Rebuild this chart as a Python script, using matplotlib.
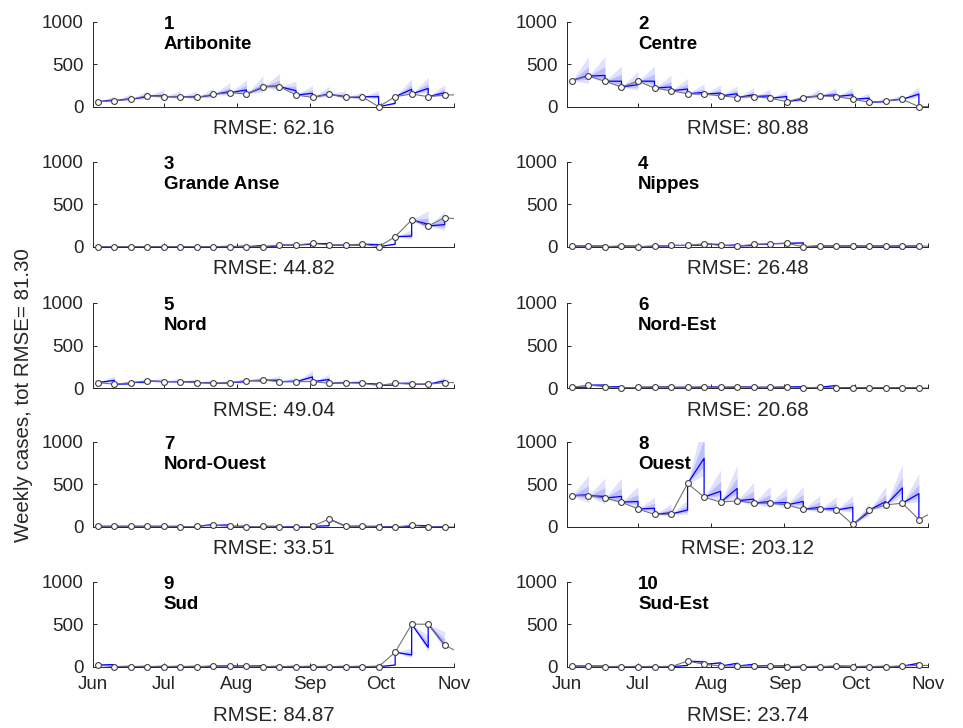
import numpy as np
import matplotlib
matplotlib.use('Agg')
import matplotlib.pyplot as plt
import matplotlib.dates as mdates

plt.rcParams['font.family'] = ['Liberation Sans', 'DejaVu Sans']

# ---- data ----
regions = ['Artibonite', 'Centre', 'Grande Anse', 'Nippes', 'Nord',
           'Nord-Est', 'Nord-Ouest', 'Ouest', 'Sud', 'Sud-Est']
rmse = [62.16, 80.88, 44.82, 26.48, 49.04, 20.68, 33.51, 203.12, 84.87, 23.74]
tot_rmse = 81.30

first_week = np.datetime64('2012-06-03')
month_ticks = np.array(['2012-06-01', '2012-07-01', '2012-08-01', '2012-09-01',
                        '2012-10-01', '2012-11-01'], dtype='datetime64[D]')
month_labels = ['Jun', 'Jul', 'Aug', 'Sep', 'Oct', 'Nov']

# observed weekly cases (22 visible weeks + the following week, off the axis)
obs_art = [59, 71, 87, 130, 118, 118, 110, 146, 165, 150, 236, 236, 138, 110, 146, 110, 118, 0, 118, 150, 118, 138, 140]
obs_cen = [308, 360, 300, 232, 300, 220, 188, 152, 148, 128, 108, 120, 100, 60, 108, 128, 120, 88, 52, 68, 88, 0, 5]
obs_ga = [0, 0, 0, 0, 0, 0, 0, 0, 0, 0, 0, 20, 20, 39, 20, 20, 31, 0, 118, 315, 244, 343, 320]
obs_nip = [8, 8, 0, 8, 0, 8, 15, 15, 35, 15, 8, 27, 35, 40, 0, 8, 8, 8, 8, 8, 8, 8, 5]
obs_nord = [64, 45, 64, 83, 75, 75, 64, 56, 64, 86, 94, 75, 75, 75, 56, 64, 56, 30, 56, 45, 45, 64, 64]
obs_ne = [8, 35, 15, 0, 8, 15, 8, 8, 15, 8, 15, 8, 8, 15, 0, 8, 0, 0, 0, 0, 0, 0, 0]
obs_no = [8, 8, 8, 8, 8, 0, 8, 20, 8, 0, 8, 0, 0, 8, 95, 8, 8, 0, 0, 20, 0, 0, 0]
obs_ou = [368, 368, 340, 292, 212, 148, 152, 512, 352, 292, 308, 280, 280, 260, 208, 208, 200, 30, 200, 260, 280, 88, 190]
obs_sud = [20, 0, 0, 0, 0, 0, 0, 8, 8, 8, 0, 0, 0, 0, 0, 0, 0, 0, 170, 500, 500, 256, 150]
obs_se = [8, 8, 0, 0, 0, 0, 0, 67, 28, 8, 8, 8, 8, 0, 0, 0, 8, 0, 0, 0, 8, 15, 15]

# one-week-ahead forecast (value reached at the end of each week)
fc_art = [80, 95, 118, 126, 118, 115, 138, 177, 197, 228, 244, 189, 157, 150, 118, 110, 118, 40, 205, 216, 165]
fc_cen = [368, 368, 300, 260, 300, 232, 208, 168, 160, 152, 140, 128, 120, 88, 128, 140, 140, 100, 60, 92, 148]
fc_ga = [0, 0, 0, 0, 0, 0, 0, 5, 8, 15, 10, 20, 30, 35, 20, 20, 25, 30, 125, 265, 260]
fc_nip = [8, 8, 5, 8, 5, 10, 15, 20, 25, 20, 15, 30, 40, 45, 10, 10, 10, 8, 8, 8, 8]
fc_nord = [90, 50, 70, 75, 75, 70, 60, 60, 75, 86, 90, 80, 130, 100, 64, 64, 45, 35, 55, 45, 85]
fc_ne = [10, 35, 15, 5, 10, 12, 10, 10, 12, 10, 12, 10, 12, 15, 8, 30, 5, 3, 3, 3, 3]
fc_no = [8, 8, 8, 8, 8, 5, 30, 25, 10, 5, 8, 5, 5, 15, 10, 10, 8, 5, 5, 15, 5]
fc_ou = [380, 360, 360, 300, 220, 168, 200, 808, 420, 452, 328, 300, 288, 300, 232, 220, 232, 180, 300, 460, 392]
fc_sud = [25, 5, 5, 5, 5, 5, 5, 10, 10, 10, 5, 5, 5, 5, 5, 5, 5, 20, 138, 228, 256]
fc_se = [8, 8, 3, 3, 3, 3, 15, 55, 45, 40, 28, 15, 10, 5, 5, 5, 5, 5, 5, 5, 40]

observed = [obs_art, obs_cen, obs_ga, obs_nip, obs_nord, obs_ne, obs_no, obs_ou, obs_sud, obs_se]
forecast = [fc_art, fc_cen, fc_ga, fc_nip, fc_nord, fc_ne, fc_no, fc_ou, fc_sud, fc_se]

# spread of the uncertainty fans at the end of the week, relative to forecast
band_inner = (0.12, 0.28)
band_outer = (0.25, 0.6)

txt_col = (0.15, 0.15, 0.15)
fig = plt.figure(figsize=(9.63, 7.28), dpi=100)

col_x = [0.0966, 0.589]
row_bottom = [0.8534, 0.6611, 0.4670, 0.2761, 0.0842]
ax_w, ax_h = 0.375, 0.1168

for i in range(10):
    r, c = i // 2, i % 2
    ax = fig.add_axes([col_x[c], row_bottom[r], ax_w, ax_h])
    obs = np.array(observed[i], dtype=float)
    fc = np.array(forecast[i], dtype=float)
    weeks = first_week + np.arange(len(obs)) * 7

    path_t, path_y = [], []
    for k in range(len(fc)):
        days = weeks[k] + np.arange(8)
        s = np.arange(8) / 7.0
        centre = obs[k] + (fc[k] - obs[k]) * s
        lo_o, hi_o = centre - band_outer[0] * fc[k] * s, centre + band_outer[1] * fc[k] * s
        lo_i, hi_i = centre - band_inner[0] * fc[k] * s, centre + band_inner[1] * fc[k] * s
        ax.fill_between(days, np.maximum(lo_o, 0), hi_o, color='b', alpha=0.12, lw=0)
        ax.fill_between(days, np.maximum(lo_i, 0), hi_i, color='b', alpha=0.15, lw=0)
        path_t.extend(days)
        path_y.extend(centre)
    path_t.append(weeks[len(fc)])
    path_y.append(obs[len(fc)])
    ax.plot(path_t, path_y, color='b', lw=0.9, zorder=3)

    ax.plot(weeks, obs, color=(0.45, 0.45, 0.45), lw=0.8, zorder=4)
    ax.plot(weeks[:22], obs[:22], 'o', ms=4.2, mfc='white', mec=(0.25, 0.25, 0.25),
            mew=0.8, zorder=5, clip_on=False)

    ax.set_xlim(month_ticks[0], month_ticks[-1])
    ax.set_ylim(0, 1000)
    ax.set_yticks([0, 500, 1000])
    ax.set_xticks(month_ticks)
    if r == 4:
        ax.set_xticklabels(month_labels)
    else:
        ax.tick_params(labelbottom=False)
    ax.spines['top'].set_visible(False)
    ax.spines['right'].set_visible(False)
    for sp in ['left', 'bottom']:
        ax.spines[sp].set_color(txt_col)
        ax.spines[sp].set_linewidth(0.7)
    ax.tick_params(direction='in', length=3, width=0.7, colors=txt_col,
                   labelsize=13.5, pad=7)
    ax.set_xlabel('RMSE: %.2f' % rmse[i], fontsize=14.8, color=txt_col, labelpad=9)

    ax.text(month_ticks[1], 1070, '%d\n%s' % (i + 1, regions[i]), fontsize=13.5,
            fontweight='bold', va='top', ha='left', color='black',
            linespacing=1.25, zorder=6)

fig.text(0.024, 0.457, 'Weekly cases, tot RMSE= %.2f' % tot_rmse, rotation=90,
         va='center', ha='center', fontsize=14.8, color=txt_col)

fig.savefig('out.png', dpi=100)
